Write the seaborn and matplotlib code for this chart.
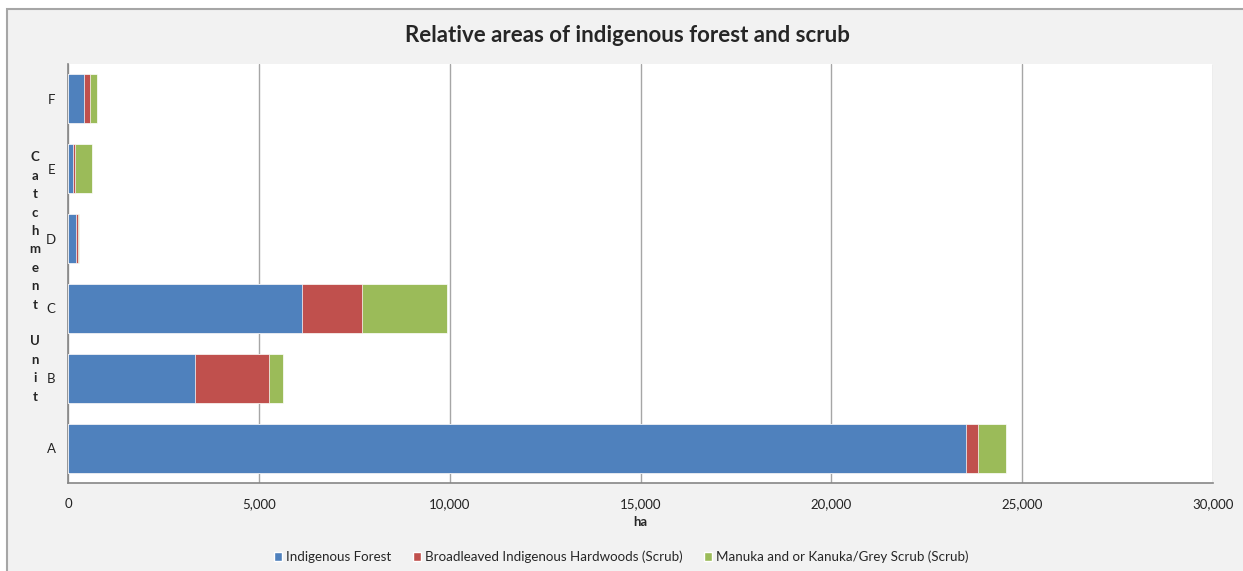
import numpy as np
import pandas as pd
import seaborn as sns
import matplotlib.pyplot as plt
from matplotlib.patches import Patch, Rectangle
from matplotlib.ticker import FuncFormatter, MultipleLocator

# datos (ha)
units = ["F", "E", "D", "C", "B", "A"]
forest = [427, 140, 218, 6125, 3335, 23520]
broadleaf = [157, 52, 52, 1590, 1925, 312]
manuka = [166, 436, 15, 2215, 365, 740]

series_names = ["Indigenous Forest",
                "Broadleaved Indigenous Hardwoods (Scrub)",
                "Manuka and or Kanuka/Grey Scrub (Scrub)"]
colors = ["#4F81BD", "#C0504D", "#9BBB59"]

df = pd.DataFrame({"unit": units, "forest": forest,
                   "broadleaf": broadleaf, "manuka": manuka})
df["c1"] = df["forest"]
df["c2"] = df["c1"] + df["broadleaf"]
df["c3"] = df["c2"] + df["manuka"]

sns.set_style("white")
plt.rcParams["font.family"] = ["Lato", "DejaVu Sans"]

fig = plt.figure(figsize=(12.43, 5.71), dpi=100)
fig.patch.set_facecolor("white")
# fondo gris con borde, estilo Excel
fig.patches.append(Rectangle((7 / 1243, -0.05), 1.1, 1 - 9 / 571 + 0.05,
                             transform=fig.transFigure, facecolor="#F2F2F2",
                             edgecolor="#A6A6A6", linewidth=1.5, zorder=-10))

ax = fig.add_axes([68 / 1243, 1 - 483 / 571, (1213 - 68) / 1243, (483 - 64) / 571])
ax.set_facecolor("white")

# barras apiladas: de la suma total hacia la primera serie
for col, c in zip(["c3", "c2", "c1"], colors[::-1]):
    sns.barplot(data=df, x=col, y="unit", order=units, color=c,
                orient="h", width=0.7, saturation=1, ax=ax, zorder=3,
                edgecolor="white", linewidth=0.5)

ax.set_xlim(0, 30000)
ax.set_ylim(5.5, -0.5)
ax.xaxis.set_major_locator(MultipleLocator(5000))
ax.xaxis.set_major_formatter(FuncFormatter(lambda v, p: f"{int(v):,}"))
ax.grid(axis="x", color="#A6A6A6", linewidth=1, zorder=0)
ax.grid(axis="y", visible=False)

# marcas del eje y entre categorias
ax.set_yticks(np.arange(-0.5, 6, 1), minor=True)
ax.tick_params(axis="y", which="major", length=0, pad=9, labelsize=9.5, labelcolor="#222222")
ax.tick_params(axis="y", which="minor", length=5, color="#868686", width=1, direction="out")
ax.tick_params(axis="x", which="major", length=5, color="#868686", width=1,
               direction="out", labelsize=9.5, labelcolor="#222222", pad=6)

for side in ["top", "right"]:
    ax.spines[side].set_visible(False)
for side in ["left", "bottom"]:
    ax.spines[side].set_color("#868686")
    ax.spines[side].set_linewidth(1.2)

ax.set_xlabel("ha", fontsize=9.5, fontweight="bold", labelpad=4)
ax.set_ylabel("")

fig.text(35 / 1243, 1 - 277 / 571, "\n".join("Catchment Unit"),
         ha="center", va="center", fontsize=9.5, fontweight="bold",
         linespacing=1.64)

fig.text(627 / 1243, 1 - 35 / 571, "Relative areas of indigenous forest and scrub",
         ha="center", va="center", fontsize=16, fontweight="bold")

handles = [Patch(facecolor=c, label=n) for c, n in zip(colors, series_names)]
fig.legend(handles=handles, loc="center", bbox_to_anchor=(0.5, 1 - 557 / 571),
           ncol=3, frameon=False, fontsize=9.6, handlelength=0.6, handleheight=0.6,
           handletextpad=0.3, columnspacing=1.6)

plt.savefig("out.png", dpi=100, facecolor=fig.get_facecolor())
